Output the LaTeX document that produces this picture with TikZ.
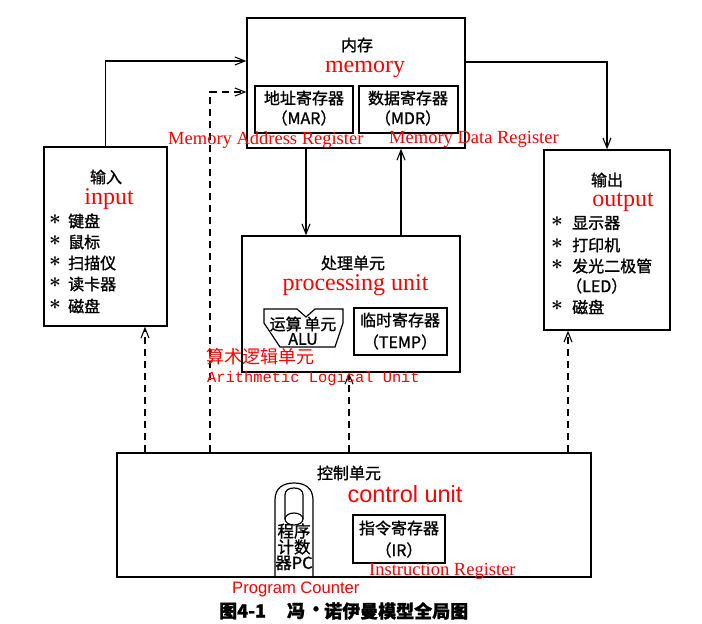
\documentclass[tikz,border=0pt]{standalone}
\usepackage{fontspec}
\setmainfont{Liberation Serif}
\newfontfamily\cjk[FakeBold=1.2]{Noto Sans CJK SC}
\newfontfamily\cjkred{Noto Sans CJK SC}
\newfontfamily\arialf{Liberation Sans}
\newfontfamily\courf{Liberation Mono}
\usetikzlibrary{arrows.meta,calc}
\tikzset{
  box/.style={draw, line width=1.3pt, inner sep=0pt},
  shapeline/.style={line width=1.2pt},
  zh/.style={inner sep=0pt, font=\cjk\fontsize{16}{16}\selectfont},
  zhpc/.style={inner sep=0pt, font=\cjk\fontsize{16.5}{16}\selectfont},
  captext/.style={inner sep=0pt, font=\cjk\bfseries\fontsize{18}{18}\selectfont},
  bul/.style={inner sep=0pt, font=\boldmath\fontsize{21}{21}\selectfont},
  bigred/.style={inner sep=0pt, text=red, font=\fontsize{24}{24}\selectfont},
  bigredsans/.style={inner sep=0pt, text=red, font=\arialf\fontsize{23.5}{24}\selectfont},
  midred/.style={inner sep=0pt, text=red, font=\fontsize{18.5}{19}\selectfont},
  midredsans/.style={inner sep=0pt, text=red, font=\arialf\fontsize{16.6}{17}\selectfont},
  monored/.style={inner sep=0pt, text=red, font=\courf\fontsize{15.4}{16}\selectfont},
  zhred/.style={inner sep=0pt, text=red, font=\cjkred\fontsize{18}{18}\selectfont},
  arr/.style={line width=1.1pt, -{Straight Barb[length=10pt,width=8pt]}},
  darr/.style={arr, dash pattern=on 7pt off 5pt},
}
\begin{document}
\begin{tikzpicture}[x=1pt,y=-1pt]
\useasboundingbox (0,0) rectangle (702,624);

% boxes
\node[box, minimum width=123pt, minimum height=179pt] (in) at (105.5,236.5) {};
\node[box, minimum width=218pt, minimum height=130pt] (mem) at (356,83) {};
\node[box, minimum width=126pt, minimum height=180pt] (out) at (607,240) {};
\node[box, minimum width=218pt, minimum height=136pt] (proc) at (351,304) {};
\node[box, minimum width=474pt, minimum height=124pt] (ctrl) at (354,515) {};
\node[box, minimum width=98pt, minimum height=47pt] (mar) at (304,109.5) {};
\node[box, minimum width=99pt, minimum height=47pt] (mdr) at (408.5,109.5) {};
\node[box, minimum width=93pt, minimum height=47pt] (temp) at (400.5,331.5) {};
\node[box, minimum width=92pt, minimum height=48pt] (ir) at (399,539) {};

% ALU shape
\draw[shapeline] (264,309) -- (297,309) -- (306,317) -- (315,309) -- (343,309)
  -- (343,323) -- (335,347) -- (280,347) -- (264,323) -- cycle;
% PC shape
\draw[shapeline] (275,577) -- (275,500) .. controls (275,488) and (283,483) .. (294,483)
  .. controls (305,483) and (313,488) .. (313,500) -- (313,577);
\draw[shapeline] (285,519) -- (285,495) .. controls (285,490) and (289,488) .. (294,488)
  .. controls (299,488) and (303,490) .. (303,495) -- (303,519);
\draw[shapeline] (294,519) ellipse [x radius=9, y radius=6];

% connectors
\draw[arr] (in.north) |- (mem.west |- 0,61);
\draw[darr] (ctrl.north -| 210,0) |- (mem.west |- 0,92);
\draw[arr] (mem.south -| 306,0) -- (proc.north -| 306,0);
\draw[arr] (proc.north -| 401,0) -- (mem.south -| 401,0);
\draw[arr] (mem.east |- 0,62) -| (out.north);
\draw[darr] (ctrl.north -| 145,0) -- (in.south -| 145,0);
\draw[darr] (ctrl.north -| 349,0) -- (proc.south -| 349,0);
\draw[darr] (ctrl.north -| 568,0) -- (out.south -| 568,0);

% memory texts
\node[zh] (tmem) at (357,45) {内存};
\node[bigred, anchor=base] (tmemory) at (365,72) {memory};
\node[zh] (tmar1) at (304,98) {地址寄存器};
\node[zh] (tmar2) at (304,118) {（MAR）};
\node[zh] (tmdr1) at (408,98) {数据寄存器};
\node[zh] (tmdr2) at (408,118) {（MDR）};
\node[midred, anchor=base west] (tmarl) at (168,144) {Memory Address Register};
\node[midred, anchor=base west] (tmdrl) at (389,143) {Memory Data Register};

% input texts
\node[zh] (tin) at (106,177) {输入};
\node[bigred, anchor=base] (tinput) at (109,204) {input};
\foreach \y/\t [count=\i] in {221/键盘, 242/鼠标, 263/扫描仪, 284/读卡器, 306/磁盘} {
  \node[bul] (ib\i) at (55,\y-1) {$\ast$};
  \node[zh, anchor=west] (it\i) at (68,\y) {\t};
}

% output texts
\node[zh] (tout) at (607,180) {输出};
\node[bigred, anchor=base] (toutput) at (623,206) {output};
\foreach \y/\t [count=\i] in {223/显示器, 245/打印机, 266/发光二极管, 307/磁盘} {
  \node[bul] (ob\i) at (557,\y-1) {$\ast$};
  \node[zh, anchor=west] (ot\i) at (572,\y) {\t};
}
\node[zh, anchor=west] (oled) at (566,286) {（LED）};

% processing texts
\node[zh] (tproc) at (353,263) {处理单元};
\node[bigred, anchor=base] (tprocu) at (355.5,290) {processing unit};
\node[zh] (talu1) at (303,324) {运算\,单元};
\node[zh] (talu2) at (303,339) {ALU};
\node[zh] (ttemp1) at (400,320) {临时寄存器};
\node[zh] (ttemp2) at (400,342) {（TEMP）};
\node[zhred, anchor=west] (taluzh) at (206,357) {算术逻辑单元};
\node[monored, anchor=base west] (talul) at (207,382) {Arithmetic Logical Unit};

% control texts
\node[zh] (tctrl) at (349,473) {控制单元};
\node[bigredsans, anchor=base] (tctrlu) at (405,502) {control unit};
\node[zh] (tir1) at (399,528) {指令寄存器};
\node[zh] (tir2) at (399,550) {（IR）};
\node[zhpc] (tpc1) at (294,531) {程序};
\node[zhpc] (tpc2) at (294,547) {计数};
\node[zhpc] (tpc3) at (294,563) {器PC};
\node[midred, anchor=base west] (tirl) at (369,575) {Instruction Register};
\node[midredsans, anchor=base west] (tpcl) at (232,593) {Program Counter};

% caption
\node[captext, anchor=west] (cap1) at (219,611) {图4-1};
\node[captext] (cap2) at (296,611) {冯};
\node[captext] (cap3) at (316,611) {·};
\node[captext, anchor=west] (cap4) at (324,611) {诺伊曼模型全局图};
\end{tikzpicture}
\end{document}
